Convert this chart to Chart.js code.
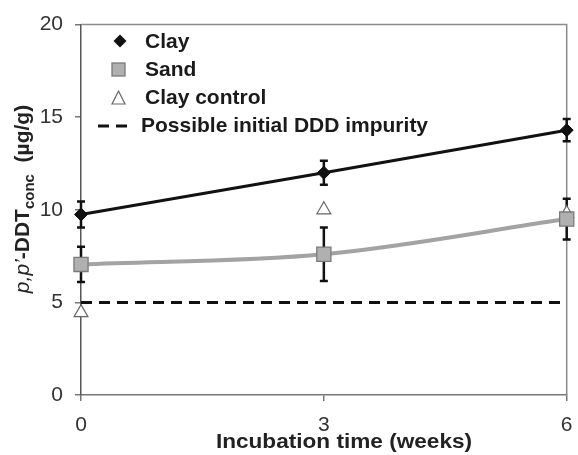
<!DOCTYPE html>
<html>
<head>
<meta charset="utf-8">
<script src="https://cdn.jsdelivr.net/npm/chart.js@4/dist/chart.umd.min.js"></script>
<style>
  html, body { margin: 0; padding: 0; background: #fff; }
  #wrap { width: 578px; height: 455px; }
</style>
</head>
<body>
<div id="wrap"><canvas id="ddtChart" width="578" height="455"></canvas></div>
<script>
// ====================================
// DATA
// ====================================
const weeks = [0, 3, 6];
const clay = [9.75, 12.0, 14.3];
const clayErr = [0.7, 0.65, 0.6];
const sand = [7.05, 7.6, 9.5];
const sandErr = [0.95, 1.45, 1.1];
const clayControl = [4.45, 10.0, 9.8];
const impurity = [5, 5, 5];
const yTicks = [0, 5, 10, 15, 20];
const xTicks = [0, 3, 6];

const FONT = "'Liberation Sans', Arial, sans-serif";

function pts(values) {
  return weeks.map(function (w, i) {
    return { x: w, y: values[i] };
  });
}

// ====================================
// PLUGINS
// ====================================
// Frame around the plot area
const framePlugin = {
  id: "frame",
  beforeDatasetsDraw: function (chart) {
    const a = chart.chartArea;
    const ctx = chart.ctx;
    ctx.save();
    ctx.strokeStyle = "#8a8a8a";
    ctx.lineWidth = 1.5;
    ctx.beginPath();
    ctx.moveTo(a.left, a.top);
    ctx.lineTo(a.right, a.top);
    ctx.lineTo(a.right, a.bottom);
    ctx.stroke();
    ctx.restore();
  },
};

// Error bars for clay and sand
const errorBarPlugin = {
  id: "errorBars",
  beforeDatasetsDraw: function (chart) {
    const ctx = chart.ctx;
    const xs = chart.scales.x;
    const ys = chart.scales.y;
    const sets = [
      { vals: clay, errs: clayErr },
      { vals: sand, errs: sandErr },
    ];
    ctx.save();
    ctx.strokeStyle = "#111";
    ctx.lineWidth = 2.5;
    sets.forEach(function (s) {
      s.vals.forEach(function (v, i) {
        const px = xs.getPixelForValue(weeks[i]);
        const top = ys.getPixelForValue(v + s.errs[i]);
        const bot = ys.getPixelForValue(v - s.errs[i]);
        ctx.beginPath();
        ctx.moveTo(px, top);
        ctx.lineTo(px, bot);
        ctx.moveTo(px - 4, top);
        ctx.lineTo(px + 4, top);
        ctx.moveTo(px - 4, bot);
        ctx.lineTo(px + 4, bot);
        ctx.stroke();
      });
    });
    ctx.restore();
  },
};

// Legend inside plot, axis titles
const decorPlugin = {
  id: "decor",
  afterDraw: function (chart) {
    const ctx = chart.ctx;
    ctx.save();

    // legend
    ctx.font = "bold 21px " + FONT;
    ctx.textBaseline = "middle";
    ctx.textAlign = "left";

    // Clay diamond
    ctx.fillStyle = "#111";
    ctx.beginPath();
    ctx.moveTo(120, 41 - 6.5);
    ctx.lineTo(126.5, 41);
    ctx.lineTo(120, 41 + 6.5);
    ctx.lineTo(113.5, 41);
    ctx.closePath();
    ctx.fill();
    ctx.fillStyle = "#1a1a1a";
    ctx.fillText("Clay", 145, 42);

    // Sand square
    ctx.fillStyle = "#b0b0b0";
    ctx.strokeStyle = "#7a7a7a";
    ctx.lineWidth = 1.3;
    ctx.fillRect(112, 63, 13, 13);
    ctx.strokeRect(112, 63, 13, 13);
    ctx.fillStyle = "#1a1a1a";
    ctx.fillText("Sand", 145, 70);

    // Clay control triangle
    ctx.fillStyle = "#fff";
    ctx.strokeStyle = "#666";
    ctx.lineWidth = 1.2;
    ctx.beginPath();
    ctx.moveTo(118.5, 91);
    ctx.lineTo(125, 104);
    ctx.lineTo(112, 104);
    ctx.closePath();
    ctx.fill();
    ctx.stroke();
    ctx.fillStyle = "#1a1a1a";
    ctx.fillText("Clay control", 145, 98);

    // dashed line
    ctx.strokeStyle = "#111";
    ctx.lineWidth = 3;
    ctx.setLineDash([11, 7]);
    ctx.beginPath();
    ctx.moveTo(98, 126);
    ctx.lineTo(134, 126);
    ctx.stroke();
    ctx.setLineDash([]);
    ctx.fillText("Possible initial DDD impurity", 141, 126);

    // x title (slightly widened like the source)
    ctx.save();
    ctx.font = "bold 20px " + FONT;
    ctx.textAlign = "center";
    ctx.fillStyle = "#222";
    ctx.translate(344, 442);
    ctx.scale(1.13, 1);
    ctx.fillText("Incubation time (weeks)", 0, 0);
    ctx.restore();

    // y title (mixed fonts, rotated)
    const pieces = [
      { t: "p", f: "italic 21px " + FONT, dy: 0 },
      { t: ",", f: "italic 21px " + FONT, dy: 0 },
      { t: "p", f: "italic 21px " + FONT, dy: 0 },
      { t: "\u2019", f: "italic 21px " + FONT, dy: 0 },
      { t: "-DDT", f: "bold 21px " + FONT, dy: 0 },
      { t: "conc", f: "bold 15px " + FONT, dy: 5 },
      { t: "  (\u00b5g/g)", f: "bold 21px " + FONT, dy: 0 },
    ];
    let total = 0;
    pieces.forEach(function (p) {
      ctx.font = p.f;
      p.w = ctx.measureText(p.t).width;
      total += p.w;
    });
    ctx.translate(29, 199);
    ctx.rotate(-Math.PI / 2);
    ctx.textAlign = "left";
    ctx.textBaseline = "alphabetic";
    ctx.fillStyle = "#222";
    let cx = -total / 2;
    pieces.forEach(function (p) {
      ctx.font = p.f;
      ctx.fillText(p.t, cx, p.dy);
      cx += p.w;
    });

    ctx.restore();
  },
};

// ====================================
// CHART
// ====================================
const ctx = document.getElementById("ddtChart").getContext("2d");
new Chart(ctx, {
  type: "line",
  data: {
    datasets: [
      {
        label: "Possible initial DDD impurity",
        data: pts(impurity),
        borderColor: "#111",
        borderWidth: 3,
        borderDash: [11, 7],
        pointRadius: 0,
        tension: 0,
        clip: false,
      },
      {
        label: "Sand",
        data: pts(sand),
        borderColor: "#a3a3a3",
        borderWidth: 4,
        cubicInterpolationMode: "monotone",
        pointStyle: "rect",
        pointRadius: 10,
        pointBackgroundColor: "#b0b0b0",
        pointBorderColor: "#7a7a7a",
        pointBorderWidth: 1.3,
        clip: false,
      },
      {
        label: "Clay",
        data: pts(clay),
        borderColor: "#111",
        borderWidth: 3,
        tension: 0,
        pointStyle: "rectRot",
        pointRadius: 6.5,
        pointBackgroundColor: "#111",
        pointBorderColor: "#111",
        pointBorderWidth: 1,
        clip: false,
      },
      {
        label: "Clay control",
        data: pts(clayControl),
        showLine: false,
        pointStyle: "triangle",
        pointRadius: 8,
        pointBackgroundColor: "#fff",
        pointBorderColor: "#666",
        pointBorderWidth: 1.2,
        clip: false,
      },
    ],
  },
  options: {
    responsive: false,
    animation: false,
    layout: { padding: { left: 0, top: 21, right: 8, bottom: 0 } },
    plugins: {
      legend: { display: false },
      tooltip: { enabled: false },
    },
    scales: {
      x: {
        type: "linear",
        min: 0,
        max: 6,
        afterBuildTicks: function (scale) {
          scale.ticks = xTicks.map(function (v) { return { value: v }; });
        },
        afterFit: function (scale) {
          scale.height = 60;
          scale.paddingLeft = 0;
          scale.paddingRight = 0;
        },
        grid: { drawOnChartArea: false, drawTicks: true, tickLength: 6, color: "#777", lineWidth: 1.5 },
        border: { display: true, color: "#777", width: 1.5 },
        ticks: {
          color: "#333",
          padding: 12,
          maxRotation: 0,
          font: { family: FONT, size: 21 },
        },
      },
      y: {
        type: "linear",
        min: 0,
        max: 20,
        afterBuildTicks: function (scale) {
          scale.ticks = yTicks.map(function (v) { return { value: v }; });
        },
        afterFit: function (scale) { scale.width = 81; },
        grid: { drawOnChartArea: false, drawTicks: true, tickLength: 6, color: "#777", lineWidth: 1.5 },
        border: { display: true, color: "#555", width: 1.5 },
        ticks: {
          color: "#333",
          padding: 12,
          font: { family: FONT, size: 21 },
        },
      },
    },
  },
  plugins: [framePlugin, errorBarPlugin, decorPlugin],
});
</script>
</body>
</html>
